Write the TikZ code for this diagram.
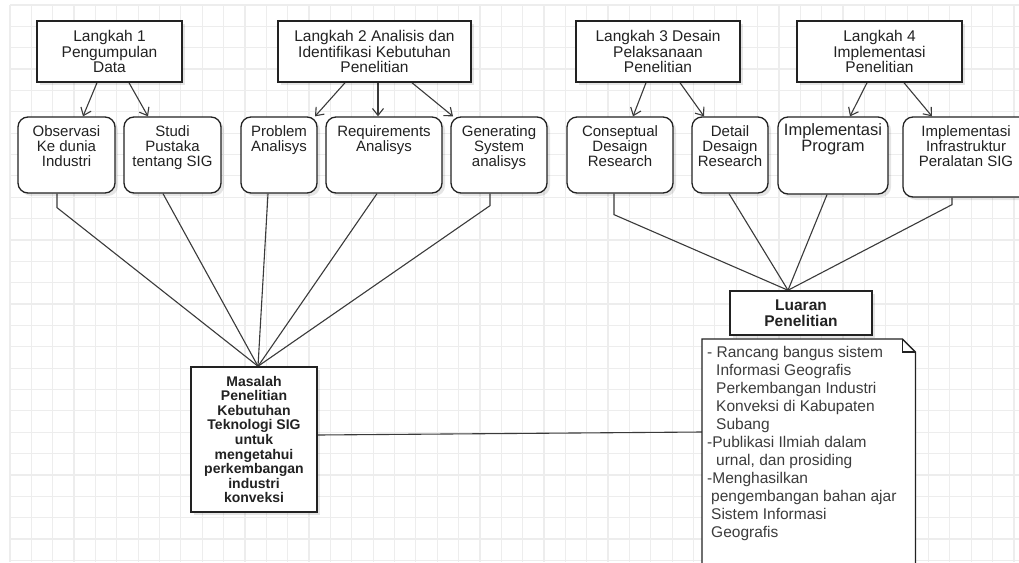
\documentclass[tikz,border=0pt]{standalone}
\usepackage{fontspec}
\setmainfont{Liberation Sans}
\usetikzlibrary{arrows.meta,shadows,backgrounds}

\definecolor{ink}{HTML}{222222}
\definecolor{wire}{HTML}{3A3A3A}
\definecolor{gridc}{HTML}{EDEDED}
\definecolor{notetext}{HTML}{3C3C3C}

\tikzset{
  x=1pt, y=-1pt,
  shd/.style={drop shadow={shadow xshift=3pt,shadow yshift=-3pt,opacity=0.10,fill=black}},
  stepbox/.style={draw=ink, line width=1.5pt, fill=white, shd, inner sep=0pt,
    minimum height=61pt, align=center, text=ink,
    font=\fontsize{15.5}{15.5}\selectfont},
  taskbox/.style={draw=ink, line width=1.3pt, fill=white, rounded corners=10pt,
    shd, inner sep=0pt, minimum height=76pt},
  tasktext/.style={anchor=north, align=center, inner sep=0pt, text=ink,
    font=\fontsize{15}{15}\selectfont},
  resbox/.style={draw=ink, line width=1.5pt, fill=white, shd, inner sep=0pt,
    align=center, text=ink},
  arr/.style={draw=wire, line width=1.1pt, -{Straight Barb[length=7pt,width=11pt]}},
  wireline/.style={draw=wire, line width=1.1pt},
}

\begin{document}
\lineskiplimit=-20pt
\begin{tikzpicture}
\useasboundingbox (0,0) rectangle (1019,562);

% step headers
\node[stepbox, minimum width=145pt] (l1) at (109.5,51.5) {Langkah 1\\Pengumpulan\\Data};
\node[stepbox, minimum width=193pt] (l2) at (374.5,51.5) {Langkah 2 Analisis dan\\Identifikasi Kebutuhan\\Penelitian};
\node[stepbox, minimum width=164pt] (l3) at (658,51.5) {Langkah 3 Desain\\Pelaksanaan\\Penelitian};
\node[stepbox, minimum width=165pt] (l4) at (879.5,51.5) {Langkah 4\\Implementasi\\Penelitian};

% activity boxes
\node[taskbox, minimum width=97pt]  (obs)  at (66.5,155) {};
\node[taskbox, minimum width=97pt]  (stud) at (172.5,155) {};
\node[taskbox, minimum width=76pt]  (prob) at (279,155) {};
\node[taskbox, minimum width=116pt] (req)  at (384,155) {};
\node[taskbox, minimum width=96pt]  (gen)  at (499,155) {};
\node[taskbox, minimum width=106pt] (con)  at (620,155) {};
\node[taskbox, minimum width=76pt]  (det)  at (730,155) {};
\node[taskbox, minimum width=110pt, minimum height=77pt] (prog) at (833,155.5) {};
\node[taskbox, minimum width=126pt, minimum height=80pt] (inf)  at (966,157) {};

\node[tasktext] (obs-t)  at ([yshift=-9pt]obs.north)  {Observasi\\Ke dunia\\Industri};
\node[tasktext] (stud-t) at ([yshift=-9pt]stud.north) {Studi\\Pustaka\\tentang SIG};
\node[tasktext] (prob-t) at ([yshift=-9pt]prob.north) {Problem\\Analisys};
\node[tasktext] (req-t)  at ([yshift=-9pt]req.north)  {Requirements\\Analisys};
\node[tasktext] (gen-t)  at ([yshift=-9pt]gen.north)  {Generating\\System\\analisys};
\node[tasktext] (con-t)  at ([yshift=-9pt]con.north)  {Conseptual\\Desaign\\Research};
\node[tasktext] (det-t)  at ([yshift=-9pt]det.north)  {Detail\\Desaign\\Research};
\node[tasktext, font=\fontsize{16.5}{16}\selectfont] (prog-t) at ([yshift=-7pt]prog.north) {Implementasi\\Program};
\node[tasktext] (inf-t)  at ([yshift=-9pt]inf.north)  {Implementasi\\Infrastruktur\\Peralatan SIG};

% problem and output boxes
\node[resbox, minimum width=126pt, minimum height=145pt,
  font=\bfseries\fontsize{14}{14.6}\selectfont] (mas) at (254,439.5)
  {Masalah\\Penelitian\\Kebutuhan\\Teknologi SIG\\untuk\\mengetahui\\perkembangan\\industri\\konveksi};
\node[resbox, minimum width=142pt, minimum height=44pt,
  font=\bfseries\fontsize{15.5}{16.5}\selectfont] (lua) at (801,313) {Luaran\\Penelitian};

% note with folded corner
\node[inner sep=0pt, minimum width=213pt, minimum height=240pt, anchor=north west] (note) at (702,339) {};
\draw[draw=ink, line width=1.3pt, fill=white]
  (note.north west) -- ([xshift=-13pt]note.north east) -- ([yshift=-13pt]note.north east)
  -- (note.south east) -- (note.south west) -- cycle;
\draw[draw=ink, line width=1.1pt]
  ([xshift=-13pt]note.north east) -- ([xshift=-13pt,yshift=-13pt]note.north east)
  -- ([yshift=-13pt]note.north east);
\node[anchor=north west, inner sep=0pt, align=left, text=notetext,
  font=\fontsize{15.5}{18}\selectfont] (note-t) at ([xshift=5pt,yshift=-7pt]note.north west)
  {- Rancang bangus sistem\\
   \hspace*{9pt}Informasi Geografis\\
   \hspace*{9pt}Perkembangan Industri\\
   \hspace*{9pt}Konveksi di Kabupaten\\
   \hspace*{9pt}Subang\\
   -Publikasi Ilmiah dalam\\
   \hspace*{9pt}urnal, dan prosiding\\
   -Menghasilkan\\
   \hspace*{4pt}pengembangan bahan ajar\\
   \hspace*{4pt}Sistem Informasi\\
   \hspace*{4pt}Geografis};

\begin{pgfonlayer}{background}
  % paper and grid
  \fill[white] (0,0) rectangle (1019,562);
  \foreach \i in {0,...,47} \draw[gridc, line width=1.2pt] (10+\i*21.36,5) -- (10+\i*21.36,562);
  \foreach \j in {0,...,26} \draw[gridc, line width=1.2pt] (10,5+\j*21.36) -- (1019,5+\j*21.36);

  % arrows from the steps
  \draw[arr] ([xshift=-12.5pt]l1.south) -- ([xshift=16.5pt]obs.north);
  \draw[arr] ([xshift=19.5pt]l1.south) -- ([xshift=-24.5pt]stud.north);
  \draw[arr] ([xshift=-29.5pt]l2.south) -- ([xshift=36pt]prob.north);
  \draw[arr] ([xshift=3.5pt]l2.south) -- ([xshift=-6pt]req.north);
  \draw[arr] ([xshift=37.5pt]l2.south) -- ([xshift=-46pt]gen.north);
  \draw[arr] ([xshift=-12pt]l3.south) -- ([xshift=13pt]con.north);
  \draw[arr] ([xshift=22pt]l3.south) -- ([xshift=-26pt]det.north);
  \draw[arr] ([xshift=-12.5pt]l4.south) -- ([xshift=17pt]prog.north);
  \draw[arr] ([xshift=24.5pt]l4.south) -- ([xshift=-34pt]inf.north);

  % lines into the research problem
  \coordinate (masin) at ([xshift=4pt]mas.north);
  \draw[wireline] ([xshift=-9.5pt]obs.south) -- ++(0,14) -- (masin);
  \draw[wireline] ([xshift=-9.5pt]stud.south) -- (masin);
  \draw[wireline] ([xshift=-11pt]prob.south) -- (masin);
  \draw[wireline] ([xshift=-7pt]req.south) -- (masin);
  \draw[wireline] ([xshift=-9pt]gen.south) -- ++(0,12) -- (masin);

  % lines into the research output
  \coordinate (luain) at ([xshift=-13pt]lua.north);
  \draw[wireline] ([xshift=-6pt]con.south) -- ++(0,21) -- (luain);
  \draw[wireline] ([xshift=-1pt]det.south) -- (luain);
  \draw[wireline] ([xshift=-6pt]prog.south) -- (luain);
  \draw[wireline] ([xshift=-14pt]inf.south) -- ++(0,7) -- (luain);

  % problem to output note
  \draw[wireline] ([yshift=4.5pt]mas.east) -- ([yshift=-93pt]note.north west);
\end{pgfonlayer}
\end{tikzpicture}
\end{document}
